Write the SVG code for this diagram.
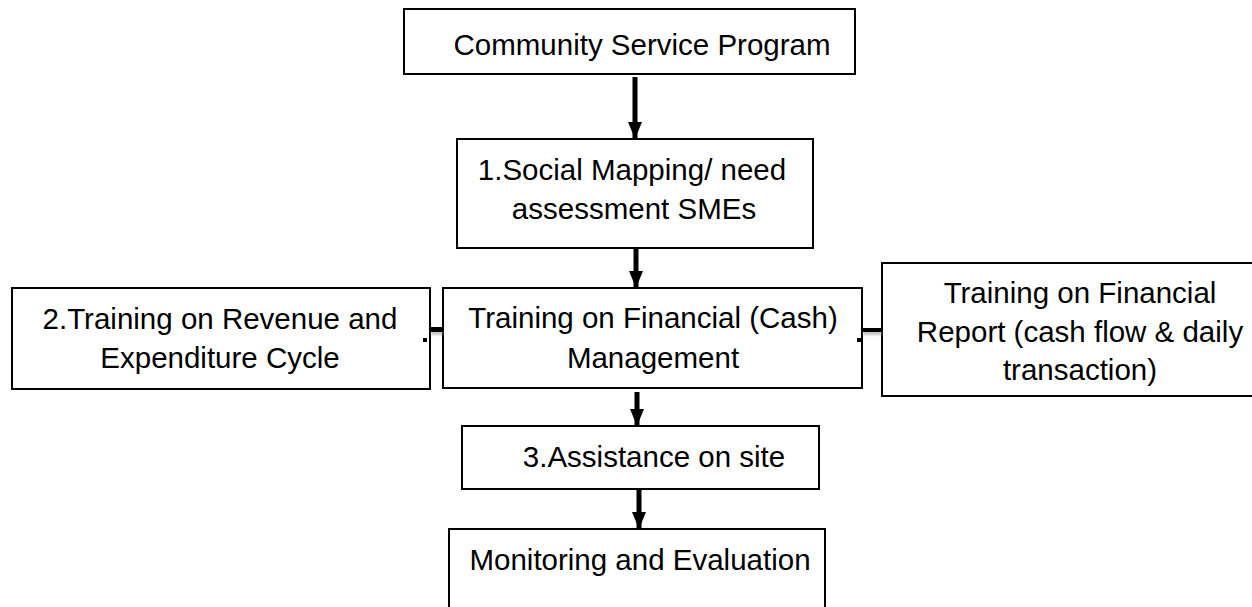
<svg xmlns="http://www.w3.org/2000/svg" width="1252" height="607" viewBox="0 0 1252 607">
  <style>
    .box { fill: #ffffff; stroke: #000000; stroke-width: 2; }
    .lbl { font-family: "Liberation Sans", Arial, sans-serif; font-size: 29.5px; fill: #000000; text-anchor: middle; }
    .flow { stroke: #000000; stroke-width: 5; fill: none; }
    .tie { fill: #000000; }
    .shade { fill: #9a9a9a; opacity: 0.6; }
  </style>
  <defs>
    <marker id="head" markerUnits="userSpaceOnUse" markerWidth="18" markerHeight="14" refX="17" refY="7" orient="auto">
      <path d="M0,0 L17,7 L0,14 Z" fill="#000000"/>
    </marker>
    <filter id="soft" x="-20%" y="-50%" width="140%" height="200%">
      <feGaussianBlur stdDeviation="1"/>
    </filter>
  </defs>

  <g id="community-service">
    <rect class="box" x="404" y="9" width="451" height="65"/>
    <text class="lbl" x="642" y="55">Community Service Program</text>
  </g>

  <g id="social-mapping">
    <rect class="box" x="457" y="139" width="356" height="109"/>
    <text class="lbl" x="632" y="180">1.Social Mapping/ need</text>
    <text class="lbl" x="634" y="219">assessment SMEs</text>
  </g>

  <g id="revenue-expenditure">
    <rect class="box" x="12" y="288" width="418" height="101"/>
    <text class="lbl" x="220" y="329">2.Training on Revenue and</text>
    <text class="lbl" x="220" y="368">Expenditure Cycle</text>
  </g>

  <g id="cash-management">
    <rect class="box" x="443" y="288" width="419" height="100"/>
    <text class="lbl" x="653" y="328">Training on Financial (Cash)</text>
    <text class="lbl" x="653" y="368">Management</text>
  </g>

  <g id="financial-report">
    <rect class="box" x="882" y="263" width="400" height="133"/>
    <text class="lbl" x="1080" y="303">Training on Financial</text>
    <text class="lbl" x="1080" y="342">Report (cash flow &amp; daily</text>
    <text class="lbl" x="1080" y="380">transaction)</text>
  </g>

  <g id="assistance">
    <rect class="box" x="462" y="426" width="357" height="63"/>
    <text class="lbl" x="654" y="467">3.Assistance on site</text>
  </g>

  <g id="monitoring">
    <rect class="box" x="449" y="529" width="376" height="90"/>
    <text class="lbl" x="640" y="570">Monitoring and Evaluation</text>
  </g>

  <g id="connectors">
    <line class="flow" x1="635" y1="77" x2="635" y2="139" marker-end="url(#head)"/>
    <line class="flow" x1="636" y1="249" x2="636" y2="288" marker-end="url(#head)"/>
    <line class="flow" x1="637" y1="392" x2="637" y2="426" marker-end="url(#head)"/>
    <line class="flow" x1="639" y1="490" x2="639" y2="529" marker-end="url(#head)"/>

    <!-- side links -->
    <rect class="shade" x="431" y="331" width="12" height="4" filter="url(#soft)"/>
    <rect class="tie" x="430" y="327" width="13" height="5"/>
    <rect class="tie" x="423" y="338" width="4" height="4"/>

    <rect class="shade" x="863" y="331" width="19" height="4" filter="url(#soft)"/>
    <rect class="tie" x="862" y="328" width="20" height="4"/>
    <rect class="tie" x="857" y="338" width="4" height="4"/>
  </g>
</svg>
